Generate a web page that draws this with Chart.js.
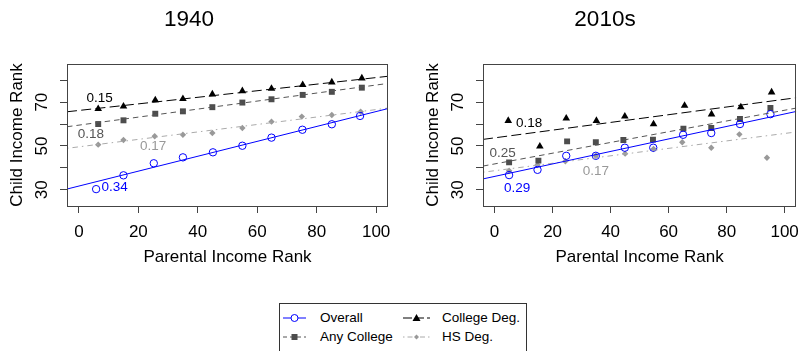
<!DOCTYPE html>
<html><head><meta charset="utf-8">
<script src="https://cdn.jsdelivr.net/npm/chart.js@4/dist/chart.umd.min.js"></script>
<style>
html,body{margin:0;padding:0;background:#fff;}
body{width:808px;height:351px;position:relative;overflow:hidden;font-family:"Liberation Sans",Arial,sans-serif;}
.panel{position:absolute;top:0;height:290px;}
#legend{position:absolute;left:279px;top:303px;width:246px;height:70px;border:1px solid #333;background:#fff;}
#legend svg{position:absolute;left:0;top:0;}
.lt{position:absolute;font-size:13.5px;color:#000;line-height:16px;white-space:nowrap;}
</style></head><body>
<div class="panel" style="left:0;width:404px"><canvas id="c1"></canvas></div>
<div class="panel" style="left:416px;width:392px"><canvas id="c2"></canvas></div>
<div id="legend">
  <svg width="246" height="60">
    <line x1="3" y1="14" x2="26" y2="14" stroke="#0000ff" stroke-width="1"/>
    <circle cx="14.5" cy="14" r="3.5" fill="#fff" stroke="#0000ff" stroke-width="1"/>
    <line x1="3" y1="33" x2="26" y2="33" stroke="#555" stroke-width="1" stroke-dasharray="4 3"/>
    <rect x="11.5" y="30" width="6" height="6" fill="#4d4d4d"/>
    <line x1="123" y1="14" x2="150" y2="14" stroke="#000" stroke-width="1" stroke-dasharray="9 3"/>
    <polygon points="136.5,10 140.5,17 132.5,17" fill="#000"/>
    <line x1="123" y1="33" x2="150" y2="33" stroke="#aaa" stroke-width="1" stroke-dasharray="1.5 3 5 3"/>
    <polygon points="136.5,30.5 139,33 136.5,35.5 134,33" fill="#999"/>
  </svg>
  <span class="lt" id="lg0" style="left:40px;top:6px"></span>
  <span class="lt" id="lg1" style="left:40px;top:25px"></span>
  <span class="lt" id="lg2" style="left:162px;top:6px"></span>
  <span class="lt" id="lg3" style="left:162px;top:25px"></span>
</div>
<script>
// ---------- data ----------
const seriesNames = ['Overall', 'Any College', 'College Deg.', 'HS Deg.'];
const panelTitles = ['1940', '2010s'];
const xTicks = [0, 20, 40, 60, 80, 100];
const yTicks = [30, 40, 50, 60, 70, 80];
const yTickLabels = ['30', '', '50', '', '70', ''];
const xAxisTitle = 'Parental Income Rank';
const yAxisTitle = 'Child Income Rank';

// 1940 panel
const x1940Overall = [5.8, 15, 25.2, 35, 45.1, 55, 64.8, 75.2, 85.1, 94.6];
const y1940Overall = [30.3, 36.6, 42.1, 44.8, 47.1, 50.1, 53.8, 57.4, 59.9, 63.7];
const x1940Any = [6.5, 15, 25.7, 35, 44.9, 55, 64.8, 75.3, 85.1, 95.2];
const y1940Any = [60.0, 61.7, 64.7, 65.8, 67.7, 69.8, 71.3, 73.3, 74.7, 76.6];
const x1940College = [6.5, 15, 25.7, 35, 44.9, 55, 64.8, 75.3, 85.1, 95.2];
const y1940College = [66.9, 68.1, 70.9, 71.5, 73.6, 75.1, 76.2, 77.9, 79.1, 80.9];
const x1940HS = [6.5, 15, 25.5, 35, 44.9, 55, 64.8, 75, 85.1, 94.8];
const y1940HS = [50.6, 52.7, 54.4, 55.1, 55.9, 58.2, 61.1, 63.4, 64.1, 65.6];
const fit1940Intercept = [31.7, 59.5, 66.2, 49.6];
const fit1940Slope = [0.34, 0.183, 0.15, 0.17];
const slope1940Labels = ['0.34', '0.18', '0.15', '0.17'];
const slope1940LabelX = [12, 4, 7, 25];
const slope1940LabelY = [31.7, 55.9, 72.4, 50.4];

// 2010s panel
const x2010Overall = [5.0, 14.8, 24.7, 34.9, 44.9, 54.7, 65.0, 74.7, 84.6, 95.1];
const y2010Overall = [36.7, 39.1, 45.5, 45.5, 49.2, 49.2, 55.1, 55.9, 60.0, 64.5];
const x2010Any = [5.0, 15.1, 25.0, 34.9, 44.4, 54.6, 65.1, 74.7, 84.6, 95.1];
const y2010Any = [42.5, 43.3, 52.1, 51.7, 52.7, 52.9, 57.9, 58.2, 62.3, 67.3];
const x2010College = [4.7, 15.6, 24.7, 35.1, 44.9, 54.8, 65.5, 74.8, 84.9, 95.5];
const y2010College = [61.5, 49.8, 62.6, 61.5, 63.5, 60.0, 68.4, 64.5, 67.7, 74.5];
const x2010HS = [5.0, 14.8, 24.4, 34.9, 45.0, 54.8, 64.7, 74.7, 84.4, 93.9];
const y2010HS = [38.7, 41.3, 43.0, 45.5, 46.5, 48.6, 51.7, 49.2, 55.3, 44.6];
const fit2010Intercept = [36.1, 41.8, 53.7, 38.7];
const fit2010Slope = [0.285, 0.245, 0.176, 0.17];
const slope2010Labels = ['0.29', '0.25', '0.18', '0.17'];
const slope2010LabelX = [7.8, 2.8, 11.9, 34.9];
const slope2010LabelY = [31.1, 47.4, 61.1, 38.9];

// ---------- styles ----------
const FONT = '"Liberation Sans", Arial, sans-serif';
const pointColors = ['#0000ff', '#4d4d4d', '#000000', '#999999'];
const lineColors = ['#0000ff', '#555555', '#000000', '#aaaaaa'];
const labelColors = ['#0000ff', '#555555', '#000000', '#999999'];
const dashes = [[], [5.5, 4], [10, 4.3], [1.5, 4, 5.5, 4]];
const pointStyles = ['circle', 'rect', 'triangle', 'rectRot'];
const pointRadii = [3.7, 4.2, 4.4, 3.2];
const X_MIN = -4, X_MAX = 104, Y_MIN = 22.6, Y_MAX = 87.4;

seriesNames.forEach((n, i) => { document.getElementById('lg' + i).textContent = n; });
Chart.defaults.font.family = FONT;

function makePanel(canvasId, title, rightPad, xs, ys, icpt, slope, labels, lx, ly) {
  const datasets = [];
  for (let i = 0; i < 4; i++) {
    datasets.push({
      label: seriesNames[i] + ' fit',
      data: [{x: X_MIN, y: icpt[i] + slope[i] * X_MIN}, {x: X_MAX, y: icpt[i] + slope[i] * X_MAX}],
      showLine: true, borderColor: lineColors[i], borderWidth: 1, borderDash: dashes[i],
      pointRadius: 0, fill: false, order: 1
    });
  }
  for (let i = 0; i < 4; i++) {
    datasets.push({
      label: seriesNames[i],
      data: xs[i].map((x, k) => ({x: x, y: ys[i][k]})),
      showLine: false, pointStyle: pointStyles[i], pointRadius: pointRadii[i],
      pointBackgroundColor: i === 0 ? 'rgba(0,0,0,0)' : pointColors[i],
      pointBorderColor: pointColors[i], pointBorderWidth: i === 0 ? 1 : 0, order: 2
    });
  }
  const panelPlugin = {
    id: 'panelDeco',
    afterDatasetsDraw(chart) {
      const {ctx, chartArea: a, scales} = chart;
      ctx.save();
      ctx.strokeStyle = '#444'; ctx.lineWidth = 1; ctx.setLineDash([]);
      ctx.strokeRect(Math.round(a.left) + 0.5, Math.round(a.top) + 0.5,
                     Math.round(a.right - a.left) - 1, Math.round(a.bottom - a.top));
      ctx.font = '13.5px ' + FONT; ctx.textAlign = 'center'; ctx.textBaseline = 'alphabetic';
      for (let i = 0; i < 4; i++) {
        ctx.fillStyle = labelColors[i];
        ctx.fillText(labels[i], scales.x.getPixelForValue(lx[i]), scales.y.getPixelForValue(ly[i]) + 5);
      }
      ctx.fillStyle = '#000'; ctx.font = '22.5px ' + FONT;
      ctx.fillText(title, 189, 26);
      ctx.restore();
    }
  };
  return new Chart(document.getElementById(canvasId), {
    type: 'scatter',
    data: {datasets: datasets},
    plugins: [panelPlugin],
    options: {
      responsive: true, maintainAspectRatio: false, animation: false,
      layout: {padding: {top: 64, left: 0, right: rightPad, bottom: 0}},
      plugins: {legend: {display: false}, tooltip: {enabled: false}, title: {display: false}},
      scales: {
        x: {
          type: 'linear', min: X_MIN, max: X_MAX,
          afterBuildTicks: s => { s.ticks = xTicks.map(v => ({value: v})); },
          afterFit: s => { s.height = 84; },
          ticks: {autoSkip: false, font: {size: 17, family: FONT}, color: '#000', padding: 9,
                  callback: v => String(v)},
          grid: {display: true, drawOnChartArea: false, drawTicks: true, tickLength: 7, color: '#444', lineWidth: 1},
          border: {display: false},
          title: {display: true, text: xAxisTitle, font: {size: 17, family: FONT}, color: '#000',
                  padding: {top: 0, bottom: 22.8}}
        },
        y: {
          type: 'linear', min: Y_MIN, max: Y_MAX,
          afterBuildTicks: s => { s.ticks = yTicks.map(v => ({value: v})); },
          afterFit: s => { s.width = 67; },
          ticks: {autoSkip: false, minRotation: 90, maxRotation: 90, crossAlign: 'center', padding: 8,
                  font: {size: 17, family: FONT}, color: '#000',
                  callback: v => { const k = yTicks.indexOf(v); return k >= 0 ? yTickLabels[k] : ''; }},
          grid: {display: true, drawOnChartArea: false, drawTicks: true, tickLength: 7, color: '#444', lineWidth: 1},
          border: {display: false},
          title: {display: true, text: yAxisTitle, font: {size: 17, family: FONT}, color: '#000',
                  padding: {top: 7, bottom: 0}}
        }
      }
    }
  });
}

makePanel('c1', panelTitles[0], 16,
  [x1940Overall, x1940Any, x1940College, x1940HS],
  [y1940Overall, y1940Any, y1940College, y1940HS],
  fit1940Intercept, fit1940Slope, slope1940Labels, slope1940LabelX, slope1940LabelY);
makePanel('c2', panelTitles[1], 4,
  [x2010Overall, x2010Any, x2010College, x2010HS],
  [y2010Overall, y2010Any, y2010College, y2010HS],
  fit2010Intercept, fit2010Slope, slope2010Labels, slope2010LabelX, slope2010LabelY);
</script>
</body></html>
